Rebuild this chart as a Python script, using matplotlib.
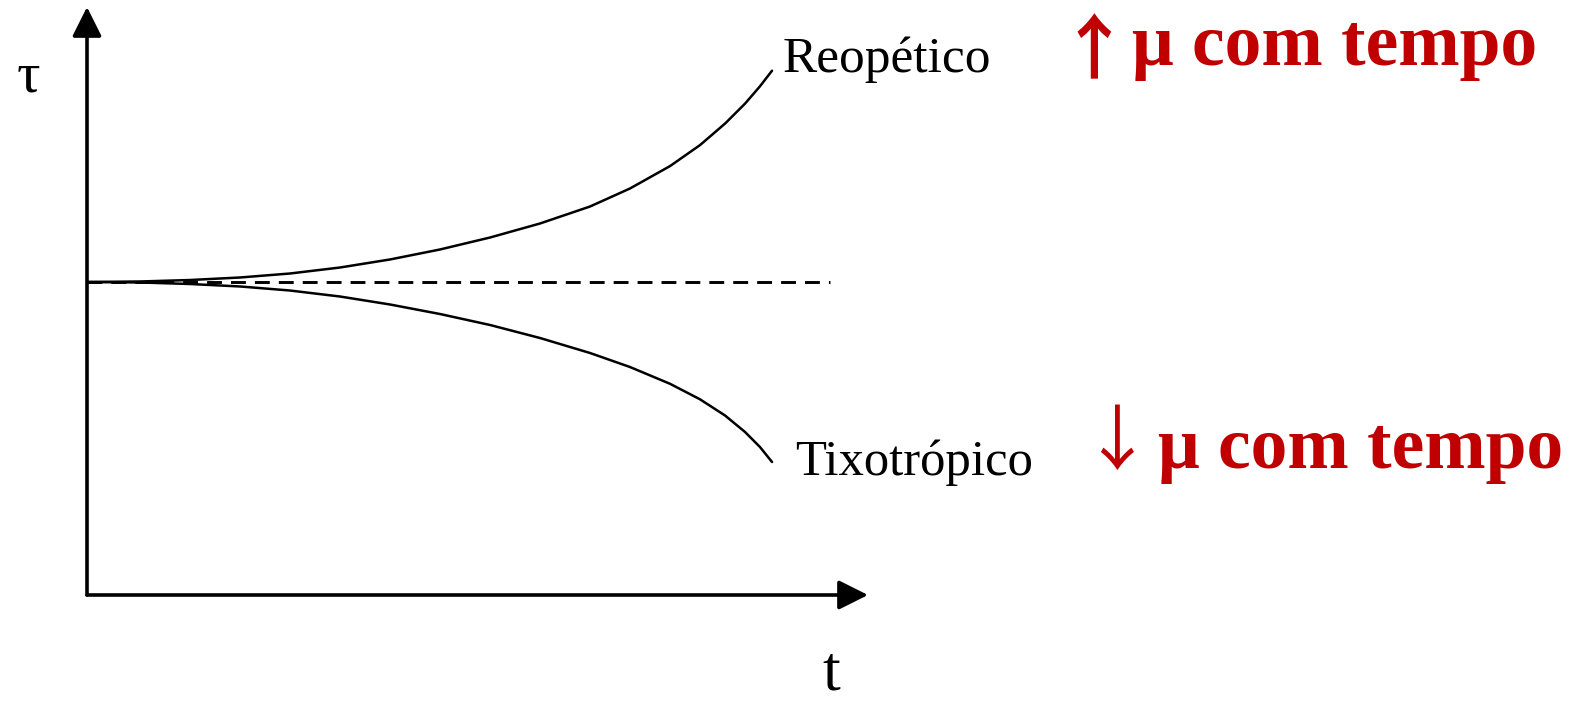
import matplotlib
matplotlib.use("Agg")
import matplotlib.pyplot as plt

# ---- data (arbitrary units: t from 0 to 10, tau from 0 to 10) ----
t_reo = [0.0, 0.681, 1.324, 1.967, 2.609, 3.252, 3.895, 4.537, 5.180, 5.823,
         6.465, 6.979, 7.494, 7.879, 8.201, 8.458, 8.650, 8.805]
tau_reo = [5.332, 5.341, 5.366, 5.409, 5.477, 5.579, 5.716, 5.886, 6.090, 6.329,
           6.618, 6.925, 7.307, 7.664, 8.031, 8.371, 8.666, 8.932]
t_tix = [0.0, 0.681, 1.324, 1.967, 2.609, 3.252, 3.895, 4.537, 5.180, 5.823,
         6.465, 6.979, 7.494, 7.879, 8.201, 8.458, 8.650, 8.805]
tau_tix = [5.332, 5.324, 5.298, 5.256, 5.187, 5.085, 4.949, 4.787, 4.600, 4.378,
           4.123, 3.884, 3.598, 3.334, 3.058, 2.777, 2.521, 2.266]
t_ref = [0.0, 9.55]
tau_ref = [5.332, 5.332]

label_reo = "Reopético"
label_tix = "Tixotrópico"
arrow_up = "↑"
arrow_down = "↓"
note_text = "μ com tempo"
ylabel = "τ"
xlabel = "t"

W, H = 1573, 702
fig = plt.figure(figsize=(W / 100, H / 100), dpi=100)

def fx(px):
    return px / W

def fy(py):
    return 1 - py / H

ax = fig.add_axes([fx(87), fy(595), fx(868) - fx(87), fy(7) - fy(595)])
ax.set_xlim(0, 10 * (868 - 87) / (865 - 87))
ax.set_ylim(0, 10 * (595 - 7) / (595 - 8))
ax.axis("off")

arrow = dict(arrowstyle="-|>,head_length=1.8,head_width=0.9", color="black", lw=2.6,
             shrinkA=0, shrinkB=0)
ax.annotate("", xy=(1, 0), xytext=(0, 0), xycoords="axes fraction",
            textcoords="axes fraction", arrowprops=arrow, annotation_clip=False)
ax.annotate("", xy=(0, 1), xytext=(0, 0), xycoords="axes fraction",
            textcoords="axes fraction", arrowprops=arrow, annotation_clip=False)

ax.plot(t_reo, tau_reo, color="black", lw=1.8, solid_capstyle="round",
        solid_joinstyle="round", clip_on=False)
ax.plot(t_tix, tau_tix, color="black", lw=1.8, solid_capstyle="round",
        solid_joinstyle="round", clip_on=False)
ax.plot(t_ref, tau_ref, color="black", lw=2.1, linestyle=(0, (5.1, 3.1)), clip_on=False)

serif = ["Liberation Serif", "DejaVu Serif"]
fig.text(fx(783), fy(72), label_reo, family=serif, fontsize=37, va="baseline", ha="left")
fig.text(fx(795), fy(475), label_tix, family=serif, fontsize=36.5, va="baseline", ha="left")
fig.text(fx(28), fy(77), ylabel, family=serif, fontsize=42, va="center", ha="center")
fig.text(fx(831), fy(690), xlabel, family=serif, fontsize=46, va="baseline", ha="center")

red = "#C00000"
arrow_font = ["Noto Sans CJK SC", "DejaVu Sans"]
fig.text(fx(1094), fy(52), arrow_up, family=arrow_font, fontsize=51, fontweight="bold",
         color=red, va="center", ha="center")
fig.text(fx(1132), fy(65), note_text, family=serif, fontsize=53, fontweight="bold",
         color=red, va="baseline", ha="left")
fig.text(fx(1117), fy(443), arrow_down, family=arrow_font, fontsize=51,
         color=red, va="center", ha="center")
fig.text(fx(1158), fy(468), note_text, family=serif, fontsize=53, fontweight="bold",
         color=red, va="baseline", ha="left")

fig.savefig("out.png", dpi=100, facecolor="white")
